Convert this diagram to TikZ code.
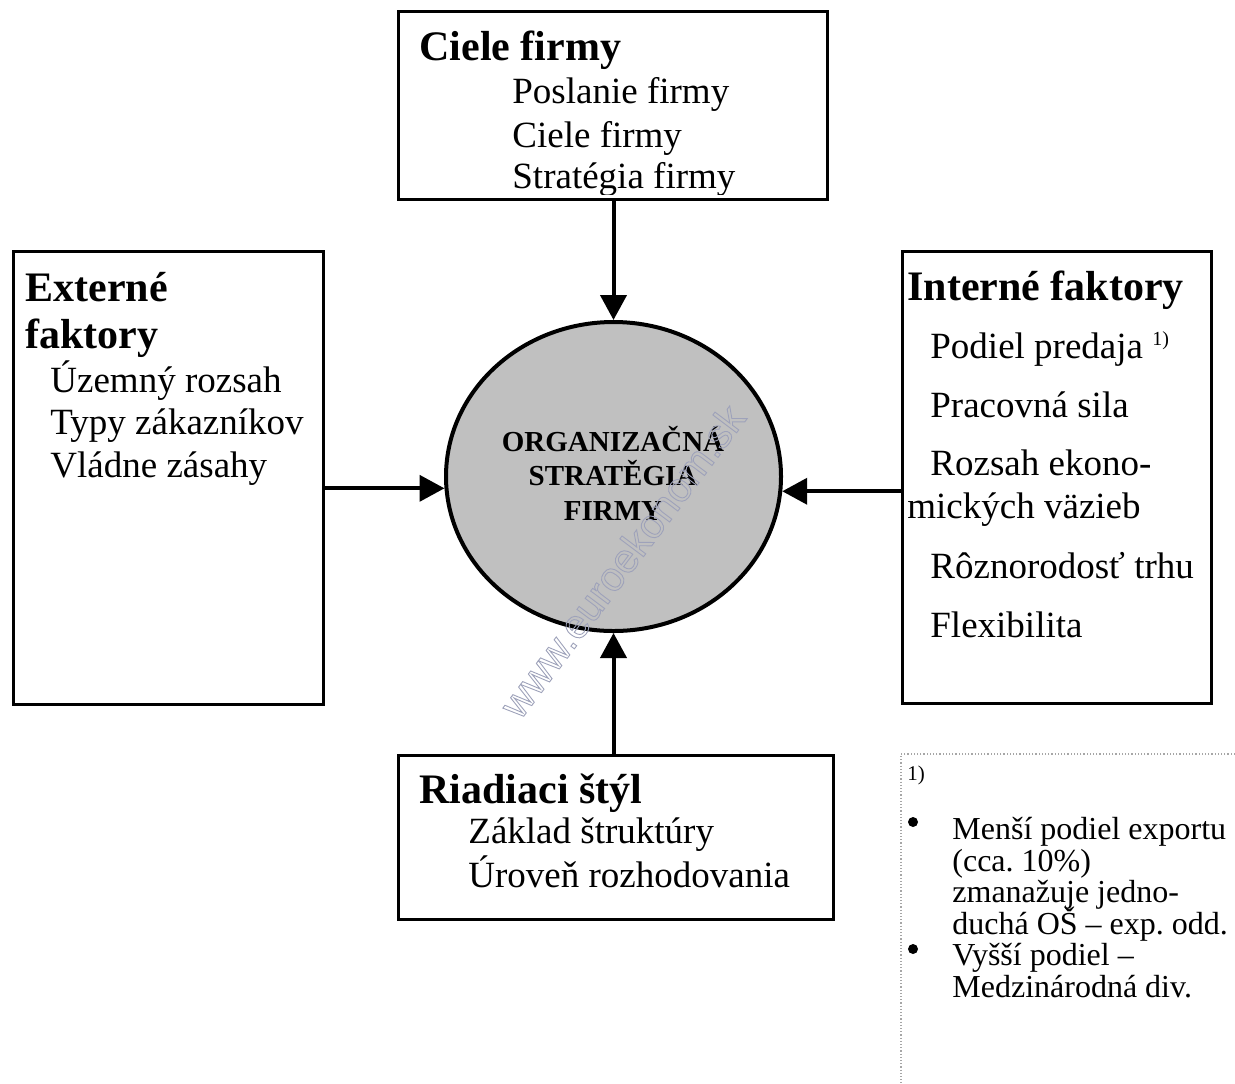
\documentclass[tikz,border=0pt]{standalone}
\usepackage{fontspec}
\setmainfont{Liberation Serif}
\newfontfamily\wmfont{Liberation Sans}
\usetikzlibrary{arrows.meta,shapes.geometric}
\frenchspacing

\definecolor{discgray}{HTML}{C0C0C0}
\definecolor{wmcolor}{HTML}{9EA2BA}
\definecolor{notegray}{HTML}{A6A6A6}

% hollow (stroked-only) lettering for the site mark
\newcommand{\hollowtext}[1]{%
  \special{pdf:literal direct 1 Tr 0.45 w}#1\special{pdf:literal direct 0 Tr}}

\begin{document}
\begin{tikzpicture}[x=0.5pt,y=-0.5pt,
  frame/.style={draw,line width=1.3pt,inner sep=0pt},
  head/.style={anchor=base west,inner sep=0pt,font=\fontsize{21pt}{24pt}\selectfont\bfseries},
  item/.style={anchor=base west,inner sep=0pt,font=\fontsize{18.5pt}{21pt}\selectfont},
  core/.style={anchor=base,inner sep=0pt,font=\fontsize{14.5pt}{17pt}\selectfont\bfseries},
  note/.style={anchor=base west,inner sep=0pt,font=\fontsize{16pt}{16pt}\selectfont},
  supnum/.style={anchor=base west,inner sep=0pt,font=\fontsize{10pt}{12pt}\selectfont},
  arr/.style={line width=2pt,-{Triangle[length=12.5pt,width=13pt]}},
]
\useasboundingbox (0,0) rectangle (1235,1083);

% ---- frames ----
\node[frame,minimum width=214.5pt,minimum height=94pt] (goals) at (613,105.5) {};
\node[frame,minimum width=155pt,minimum height=226.5pt] (ext) at (168.5,478) {};
\node[frame,minimum width=154.5pt,minimum height=226pt] (int) at (1057,477.5) {};
\node[frame,minimum width=217.5pt,minimum height=82pt] (mgmt) at (616,837.5) {};

% ---- central disc ----
\node[ellipse,draw,line width=2pt,fill=discgray,inner sep=0pt,
      minimum width=167.5pt,minimum height=154.5pt] (core) at (613.5,476.5) {};
\node[core] (c1) at (613,451) {ORGANIZAČNÁ};
\node[core] (c2) at (613,485) {STRATĚGIA};
\node[core] (c3) at (613,520) {FIRMY};

% ---- goals box ----
\node[head] (g0) at (419,60) {Ciele firmy};
\node[item] (g1) at (512,103) {Poslanie firmy};
\node[item] (g2) at (512,147) {Ciele firmy};
\begin{scope}
  \clip (397,10) rectangle (829,194);
  \node[item] (g3) at (512,188) {Stratégia firmy};
\end{scope}

% ---- external factors ----
\node[head] (e0) at (25,301) {Externé};
\node[head] (e1) at (25,348) {faktory};
\node[item] (e2) at (50,392) {Územný rozsah};
\node[item] (e3) at (50,434) {Typy zákazníkov};
\node[item] (e4) at (50,477) {Vládne zásahy};

% ---- internal factors ----
\node[head] (i0) at (907,300) {Interné faktory};
\node[item] (i1) at (930,358) {Podiel predaja};
\node[supnum] (i1s) at (1152,345) {1)};
\node[item] (i2) at (930,417) {Pracovná sila};
\node[item] (i3) at (930,475) {Rozsah ekono-};
\node[item] (i4) at (907,518) {mických väzieb};
\node[item] (i5) at (930,578) {Rôznorodosť trhu};
\node[item] (i6) at (930,637) {Flexibilita};

% ---- management style ----
\node[head] (m0) at (419,803) {Riadiaci štýl};
\node[item] (m1) at (468,843) {Základ štruktúry};
\node[item] (m2) at (468,887) {Úroveň rozhodovania};

% ---- arrows into the disc ----
\draw[arr] (core.north |- goals.south) -- (core.north);
\draw[arr] (core.south |- mgmt.north) -- (core.south);
\draw[arr] (ext.east |- core.184.6) -- (core.184.6);
\draw[arr] (int.west |- core.355.4) -- (core.355.4);

% ---- footnote ----
\draw[notegray,line width=0.6pt,densely dotted] (1235,754) -- (901,754) -- (901,1083);
\node[supnum,font=\fontsize{10.5pt}{12pt}\selectfont] (n0) at (907,780) {1)};
\fill (913,822) circle (5);
\fill (913,949) circle (5);
\node[note] (n1) at (952,839) {Menší podiel exportu};
\node[note] (n2) at (952,871) {(cca. 10\%)};
\node[note] (n3) at (952,902) {zmanažuje jedno-};
\node[note] (n4) at (952,934) {duchá OŠ – exp. odd.};
\node[note] (n5) at (952,965) {Vyšší podiel –};
\node[note] (n6) at (952,997) {Medzinárodná div.};

% ---- site mark ----
\node[rotate=53.1,text=wmcolor,inner sep=0pt] (wm) at (622,561)
  {\wmfont\fontsize{20.5pt}{24pt}\selectfont\hollowtext{www.euroekonom.sk}};
\end{tikzpicture}
\end{document}
